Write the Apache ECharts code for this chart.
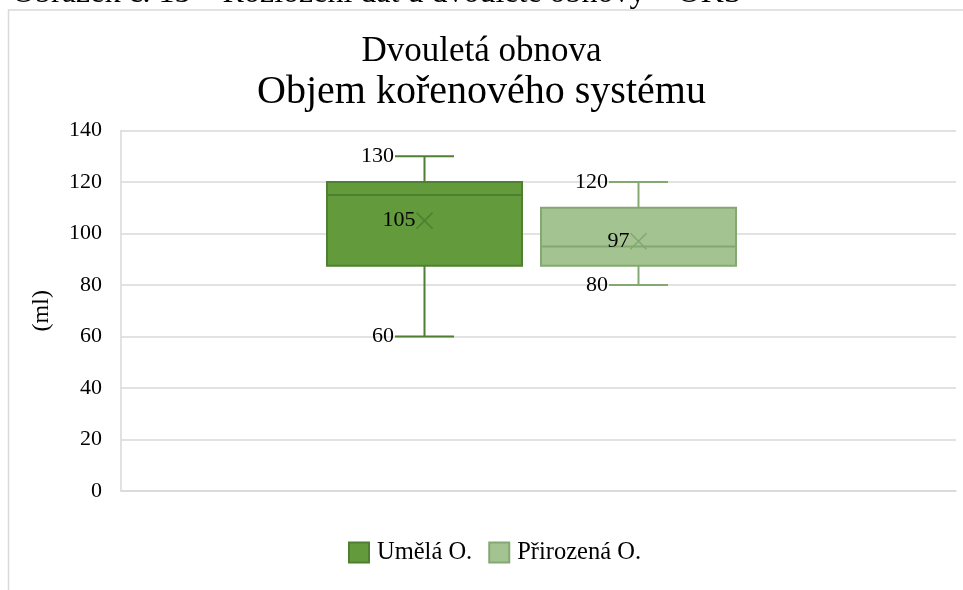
<!DOCTYPE html>
<html><head><meta charset="utf-8">
<script src="https://cdn.jsdelivr.net/npm/echarts@6/dist/echarts.min.js"></script>
<style>html,body{margin:0;padding:0;background:#fff}#c{width:963px;height:590px}</style>
</head><body><div id="c"></div>
<script>
// ---- data ----
const categories = ['Dvouletá obnova'];
const seriesNames = ['Umělá O.', 'Přirozená O.'];
const minValues = [60, 80];
const q1Values = [87.5, 87.5];
const medianValues = [115, 95];
const q3Values = [120, 110];
const maxValues = [130, 120];
const meanValues = [105, 97];
const yTicks = [0, 20, 40, 60, 80, 100, 120, 140];

// ---- styles ----
const FONT = 'Liberation Serif';
const fills = ['#629a3c', '#a3c490'];
const strokes = ['#4f7f30', '#84a872'];
const OFFSETS = [-114, 100];
const BOX_W = 195, CAP_W = 59, X_SIZE = 8;

function makeRender(idx) {
  return function (params, api) {
    const cat = api.value(0);
    const cx = api.coord([cat, 0])[0] + OFFSETS[idx];
    const y = v => api.coord([cat, v])[1];
    const yMin = y(api.value(1)), yQ1 = y(api.value(2)), yMed = y(api.value(3)),
          yQ3 = y(api.value(4)), yMax = y(api.value(5)), yMean = y(api.value(6));
    const st = { stroke: strokes[idx], lineWidth: 2 };
    const hw = BOX_W / 2, cw = CAP_W / 2;
    const lbl = (text, x, yy) => ({
      type: 'text', style: { text: String(text), x: x, y: yy, align: 'right', verticalAlign: 'middle',
        fontFamily: FONT, fontSize: 22, fill: '#000' }, z2: 20
    });
    return {
      type: 'group',
      children: [
        { type: 'line', shape: { x1: cx, y1: yMax, x2: cx, y2: yQ3 }, style: st },
        { type: 'line', shape: { x1: cx, y1: yQ1, x2: cx, y2: yMin }, style: st },
        { type: 'line', shape: { x1: cx - cw, y1: yMax, x2: cx + cw, y2: yMax }, style: st },
        { type: 'line', shape: { x1: cx - cw, y1: yMin, x2: cx + cw, y2: yMin }, style: st },
        { type: 'rect', shape: { x: cx - hw, y: yQ3, width: BOX_W, height: yQ1 - yQ3 },
          style: { fill: fills[idx], stroke: strokes[idx], lineWidth: 2 } },
        { type: 'line', shape: { x1: cx - hw, y1: yMed, x2: cx + hw, y2: yMed }, style: st },
        { type: 'line', shape: { x1: cx - X_SIZE, y1: yMean - X_SIZE, x2: cx + X_SIZE, y2: yMean + X_SIZE }, style: { stroke: strokes[idx], lineWidth: 1.5 }, z2: 10 },
        { type: 'line', shape: { x1: cx - X_SIZE, y1: yMean + X_SIZE, x2: cx + X_SIZE, y2: yMean - X_SIZE }, style: { stroke: strokes[idx], lineWidth: 1.5 }, z2: 10 },
        lbl(api.value(5), cx - cw - 1, yMax),
        lbl(api.value(1), cx - cw - 1, yMin),
        lbl(api.value(6), cx - X_SIZE - 1, yMean)
      ]
    };
  };
}

const series = seriesNames.map((name, i) => ({
  name: name,
  type: 'custom',
  renderItem: makeRender(i),
  encode: { x: 0, y: [1, 2, 3, 4, 5] },
  itemStyle: { color: fills[i], borderColor: strokes[i], borderWidth: 1.5 },
  data: [[0, minValues[i], q1Values[i], medianValues[i], q3Values[i], maxValues[i], meanValues[i]]]
}));

const chart = echarts.init(document.getElementById('c'), null, { renderer: 'canvas' });
chart.setOption({
  animation: false,
  backgroundColor: '#fff',
  title: {
    text: '{a|Dvouletá obnova}\n{b|Objem kořenového systému}',
    left: 'center', top: 26,
    textStyle: {
      fontFamily: FONT, fontWeight: 'normal', color: '#000', lineHeight: 41,
      rich: {
        a: { fontFamily: FONT, fontSize: 35, color: '#000', lineHeight: 41 },
        b: { fontFamily: FONT, fontSize: 40, color: '#000', lineHeight: 41 }
      }
    }
  },
  legend: {
    data: seriesNames, top: 535, left: 343,
    icon: 'rect', itemWidth: 20, itemHeight: 20, itemGap: 16,
    textStyle: { fontFamily: FONT, fontSize: 24.5, color: '#000', padding: [0, 0, 0, 3] }
  },
  grid: { left: 121, right: 7, top: 130.5, bottom: 99, containLabel: false },
  xAxis: {
    type: 'category', data: categories,
    axisLabel: { show: false }, axisTick: { show: false },
    axisLine: { show: true, lineStyle: { color: '#d9d9d9', width: 1.5 } }
  },
  yAxis: {
    type: 'value', min: yTicks[0], max: yTicks[yTicks.length - 1], interval: yTicks[1] - yTicks[0],
    name: '(ml)', nameLocation: 'middle', nameRotate: 90, nameGap: 67,
    nameTextStyle: { fontFamily: FONT, fontSize: 24, color: '#000' },
    axisLabel: { fontFamily: FONT, fontSize: 22, color: '#000', margin: 19 },
    axisTick: { show: false },
    axisLine: { show: true, lineStyle: { color: '#d9d9d9', width: 1.5 } },
    splitLine: { lineStyle: { color: '#d9d9d9', width: 1.5 } }
  },
  graphic: [
    { type: 'rect', shape: { x: 8.5, y: 10, width: 1000, height: 1000 },
      style: { fill: 'none', stroke: '#d9d9d9', lineWidth: 1.5 }, silent: true },
    { type: 'text', left: 12, top: -22,
      style: { text: 'Obrázek č. 15 – Rozložení dat u dvouleté obnovy – OKS', fontFamily: FONT, fontSize: 32, fill: '#000' } }
  ],
  series: series
});
</script>
</body></html>
